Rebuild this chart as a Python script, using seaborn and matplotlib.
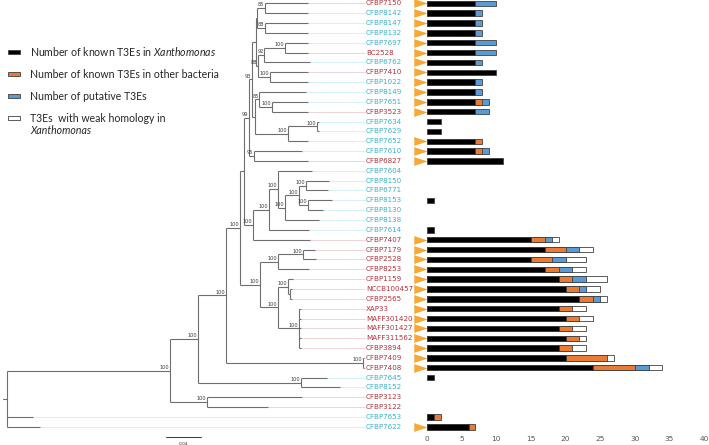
import numpy as np
import pandas as pd
import matplotlib
matplotlib.use('Agg')
import matplotlib.pyplot as plt
from matplotlib.patches import Rectangle
import seaborn as sns

# strains, top to bottom
STRAINS = ['CFBP7150', 'CFBP8142', 'CFBP8147', 'CFBP8132', 'CFBP7697', 'BC2528', 'CFBP6762',
           'CFBP7410', 'CFBP1022', 'CFBP8149', 'CFBP7651', 'CFBP3523', 'CFBP7634', 'CFBP7629',
           'CFBP7652', 'CFBP7610', 'CFBP6827', 'CFBP7604', 'CFBP8150', 'CFBP6771', 'CFBP8153',
           'CFBP8130', 'CFBP8138', 'CFBP7614', 'CFBP7407', 'CFBP7179', 'CFBP2528', 'CFBP8253',
           'CFBP1159', 'NCCB100457', 'CFBP2565', 'XAP33', 'MAFF301420', 'MAFF301427',
           'MAFF311562', 'CFBP3894', 'CFBP7409', 'CFBP7408', 'CFBP7645', 'CFBP8152',
           'CFBP3123', 'CFBP3122', 'CFBP7653', 'CFBP7622']
# 1 = pathogenic strain (red label), 0 = non-pathogenic (cyan label)
PATHOGENIC = [1, 0, 0, 0, 0, 1, 0, 1, 0, 0, 0, 1, 0, 0, 0, 0, 1, 0, 0, 0, 0, 0, 0, 0,
              1, 1, 1, 1, 1, 1, 1, 1, 1, 1, 1, 1, 1, 1, 0, 0, 1, 1, 0, 0]
T3SS = [1, 1, 1, 1, 1, 1, 1, 1, 1, 1, 1, 1, 0, 0, 1, 1, 1, 0, 0, 0, 0, 0, 0, 0,
        1, 1, 1, 1, 1, 1, 1, 1, 1, 1, 1, 1, 1, 1, 0, 0, 0, 0, 0, 1]
KNOWN_XANTHO = [7, 7, 7, 7, 7, 7, 7, 10, 7, 7, 7, 7, 2, 2, 7, 7, 11, 0, 0, 0, 1, 0, 0, 1,
                15, 17, 15, 17, 19, 20, 22, 19, 20, 19, 20, 19, 20, 24, 1, 0, 0, 0, 1, 6]
KNOWN_OTHER = [0, 0, 0, 0, 0, 0, 0, 0, 0, 0, 1, 0, 0, 0, 1, 1, 0, 0, 0, 0, 0, 0, 0, 0,
               2, 3, 3, 2, 2, 2, 2, 2, 2, 2, 2, 2, 6, 6, 0, 0, 0, 0, 1, 1]
PUTATIVE = [3, 1, 1, 1, 3, 3, 1, 0, 1, 1, 1, 2, 0, 0, 0, 1, 0, 0, 0, 0, 0, 0, 0, 0,
            1, 2, 2, 2, 2, 1, 1, 0, 0, 0, 0, 0, 0, 2, 0, 0, 0, 0, 0, 0]
WEAK = [0, 0, 0, 0, 0, 0, 0, 0, 0, 0, 0, 0, 0, 0, 0, 0, 0, 0, 0, 0, 0, 0, 0, 0,
        1, 2, 3, 2, 3, 2, 1, 2, 2, 2, 1, 2, 1, 2, 0, 0, 0, 0, 0, 0]


def clade(depth, support, *kids):
    return {'d': depth, 's': support, 'kids': list(kids)}


def tip(name, depth):
    return {'name': name, 'd': depth, 'kids': []}


# depth = distance from root (substitutions/site)
TREE = clade(0.0, None,
    clade(0.1847, 100,
        clade(0.2164, 100,
            clade(0.2482, 100,
                clade(0.2640, 100,
                    clade(0.2689, None,
                        clade(0.2742, 99,
                            clade(0.2773, 93,
                                clade(0.2818, None,
                                    clade(0.2836, None,
                                        clade(0.2924, 85, tip('CFBP7150', 0.3414), tip('CFBP8142', 0.3414)),
                                        clade(0.2924, 88, tip('CFBP8147', 0.3414), tip('CFBP8132', 0.3414))),
                                    clade(0.2848, 88,
                                        clade(0.2916, 92,
                                            clade(0.3150, 100, tip('CFBP7697', 0.3414), tip('BC2528', 0.3414)),
                                            tip('CFBP6762', 0.3433)),
                                        clade(0.2980, 100, tip('CFBP7410', 0.3414), tip('CFBP1022', 0.3414)))),
                                clade(0.2810, None,
                                    clade(0.2859, 85,
                                        tip('CFBP8149', 0.3385),
                                        clade(0.2999, 100, tip('CFBP7651', 0.3414), tip('CFBP3523', 0.3414))),
                                    clade(0.3188, 100,
                                        clade(0.3516, 100, tip('CFBP7634', 0.3530), tip('CFBP7629', 0.3530)),
                                        tip('CFBP7652', 0.3414)))),
                            clade(0.2802, 95, tip('CFBP7610', 0.3339), tip('CFBP6827', 0.3414))),
                        clade(0.2791, 100,
                            clade(0.2972, 100,
                                clade(0.3074, 100,
                                    tip('CFBP7604', 0.3459),
                                    clade(0.3150, 100,
                                        clade(0.3312, 100,
                                            clade(0.3388, 100, tip('CFBP8150', 0.3652), tip('CFBP6771', 0.3634)),
                                            clade(0.3407, 100, tip('CFBP8153', 0.3679), tip('CFBP8130', 0.3584))),
                                        tip('CFBP8138', 0.3539))),
                                tip('CFBP7614', 0.3425)),
                            tip('CFBP7407', 0.3433))),
                    clade(0.2867, 100,
                        clade(0.3074, 100,
                            clade(0.3357, 100, tip('CFBP7179', 0.3490), tip('CFBP2528', 0.3498)),
                            tip('CFBP8253', 0.3422)),
                        clade(0.3074, 100,
                            clade(0.3188, 100,
                                tip('CFBP1159', 0.3241),
                                clade(0.3207, None, tip('NCCB100457', 0.3229), tip('CFBP2565', 0.3229))),
                            clade(0.3309, 100, tip('XAP33', 0.3326), tip('MAFF301420', 0.3326),
                                  tip('MAFF301427', 0.3326), tip('MAFF311562', 0.3326),
                                  tip('CFBP3894', 0.3326))))),
                clade(0.4031, 100, tip('CFBP7409', 0.4045), tip('CFBP7408', 0.4045))),
            clade(0.3331, 100, tip('CFBP7645', 0.3626), tip('CFBP8152', 0.3773))),
        clade(0.2266, 100, tip('CFBP3123', 0.3343), tip('CFBP3122', 0.2958))),
    tip('CFBP7653', 0.0295),
    tip('CFBP7622', 0.0374))

BLACK = '#000000'
ORANGE = '#E97B34'
BLUE = '#5B9BD5'
WHITE = '#FFFFFF'
EDGE = '#404040'
TRI = '#F7A934'
RED_LAB = '#B0323A'
CYAN_LAB = '#35B3CC'
BRANCH = '#6E6E6E'

sns.set_theme(style='white')
plt.rcParams['font.family'] = ['DejaVu Sans']
plt.rcParams['mathtext.fontset'] = 'custom'
plt.rcParams['mathtext.it'] = 'Lato:italic'
plt.rcParams['mathtext.rm'] = 'Lato'

W, H = 709, 445
fig = plt.figure(figsize=(W / 100, H / 100), dpi=100)
YLIM = (43.52, -0.335)
ax_t = fig.add_axes([0, 13 / H, 427 / W, 432 / H])
ax_b = fig.add_axes([427 / W, 13 / H, 277 / W, 432 / H])

# ---- tree ----
y_of = {name: i for i, name in enumerate(STRAINS)}


def layout(node):
    if not node['kids']:
        node['y'] = y_of[node['name']]
        return
    for k in node['kids']:
        layout(k)
    node['y'] = (node['kids'][0]['y'] + node['kids'][-1]['y']) / 2


layout(TREE)
tips = []


def draw(node, ax):
    if not node['kids']:
        tips.append(node)
        return
    ax.plot([node['d'], node['d']], [node['kids'][0]['y'], node['kids'][-1]['y']],
            color=BRANCH, lw=0.8, solid_capstyle='butt')
    for k in node['kids']:
        ax.plot([node['d'], k['d']], [k['y'], k['y']], color=BRANCH, lw=0.8,
                solid_capstyle='butt')
        draw(k, ax)
    if node['s'] is not None:
        ax.text(node['d'] - 0.0009, node['y'] - 0.08, str(node['s']), ha='right', va='bottom',
                fontsize=3.6, color='#3a3a3a')


draw(TREE, ax_t)
ax_t.plot([-0.004, 0], [TREE['y'], TREE['y']], color=BRANCH, lw=0.8)

LABEL_X = 0.4068
for t in tips:
    i = y_of[t['name']]
    col = RED_LAB if PATHOGENIC[i] else CYAN_LAB
    if t['d'] < LABEL_X - 0.002:
        ax_t.plot([t['d'], LABEL_X - 0.0015], [t['y'], t['y']], color=col, lw=0.4, alpha=0.35)
    ax_t.text(LABEL_X, t['y'], t['name'], ha='left', va='center', fontsize=5.1, color=col)

# scale bar
ax_t.plot([0.18, 0.22], [44.05, 44.05], color='#333333', lw=0.7, clip_on=False)
ax_t.text(0.20, 44.5, '0.04', ha='center', va='top', fontsize=3.2, color='#333333')
ax_t.set_xlim(-7 / 882.5, 420 / 882.5)
ax_t.set_ylim(*YLIM)
ax_t.axis('off')

# ---- stacked bars (overlaid cumulative totals) ----
df = pd.DataFrame({'strain': STRAINS, 'known': KNOWN_XANTHO, 'other': KNOWN_OTHER,
                   'putative': PUTATIVE, 'weak': WEAK})
df['c1'] = df['known']
df['c2'] = df['c1'] + df['other']
df['c3'] = df['c2'] + df['putative']
df['c4'] = df['c3'] + df['weak']
layers = [('c4', 'weak', WHITE), ('c3', 'putative', BLUE), ('c2', 'other', ORANGE),
          ('c1', 'known', BLACK)]
for col, part, color in layers:
    sub = df[df[part] > 0]
    sns.barplot(data=sub, x=col, y='strain', order=STRAINS, orient='h', color=color,
                saturation=1, edgecolor=EDGE, linewidth=0.6, width=0.55, errorbar=None, ax=ax_b)

tri_rows = [i for i, v in enumerate(T3SS) if v]
tri = [(-1, -0.65), (1, 0), (-1, 0.65)]
ax_b.scatter(np.full(len(tri_rows), -1.0), tri_rows, marker=tri, s=80, color=TRI,
             edgecolors='#E8962A', linewidths=0.3, clip_on=False, zorder=5)

ax_b.set_xlim(0, 40)
ax_b.set_ylim(*YLIM)
ax_b.set_xticks(range(0, 41, 5))
ax_b.set_yticks([])
ax_b.set_xlabel('')
ax_b.set_ylabel('')
ax_b.tick_params(axis='x', length=0, labelsize=5.3, colors='#555555', pad=3)
sns.despine(ax=ax_b, left=True, bottom=True)

# ---- legend (drawn by hand, figure pixels from top-left) ----
legend_rows = [(BLACK, 'Number of known T3Es in $\\it{Xanthomonas}$', 52),
               (ORANGE, 'Number of known T3Es in other bacteria', 74),
               (BLUE, 'Number of putative T3Es', 96),
               (WHITE, 'T3Es  with weak homology in', 118)]
for color, text, ypx in legend_rows:
    fig.add_artist(Rectangle((8 / W, 1 - (ypx + 2) / H), 12 / W, 4 / H, transform=fig.transFigure,
                             facecolor=color, edgecolor=EDGE, lw=0.6))
    fig.text(30 / W, 1 - ypx / H, text, family='Lato', fontsize=7.6, ha='left', va='center')
fig.text(30 / W, 1 - 130.5 / H, 'Xanthomonas', family='Lato', style='italic', fontsize=7.6,
         ha='left', va='center')

fig.savefig('out.png', dpi=100)
